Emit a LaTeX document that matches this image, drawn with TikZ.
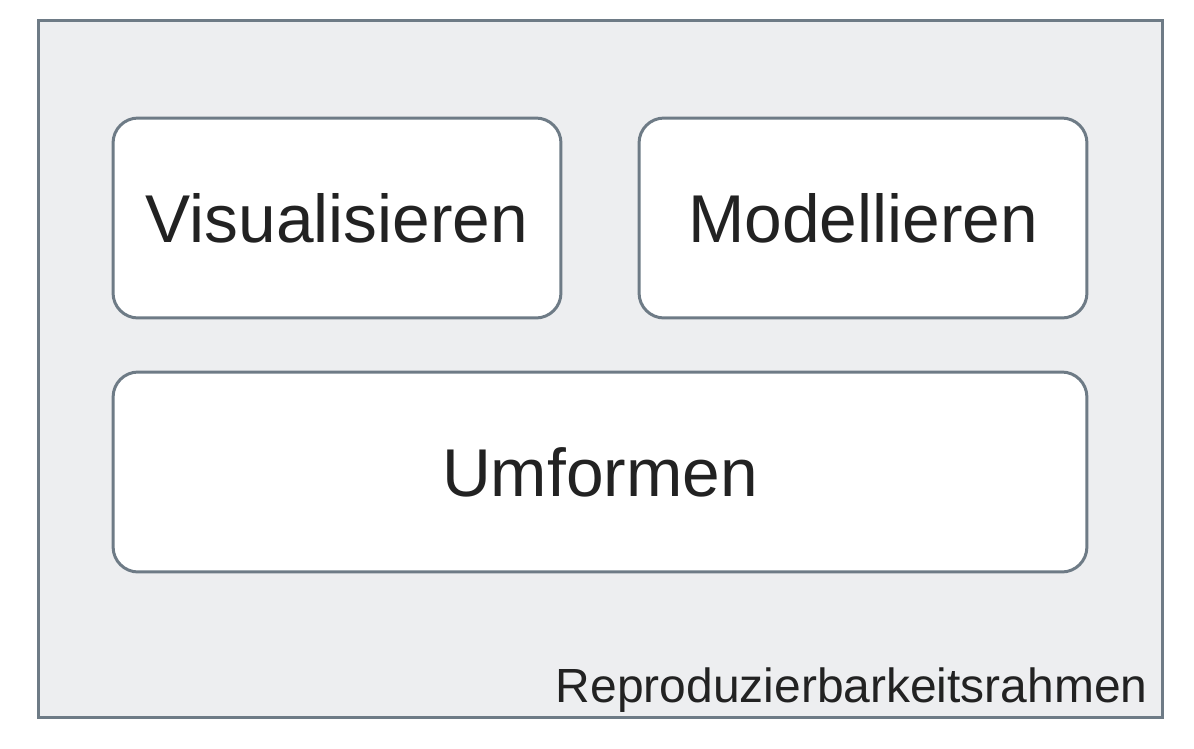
\documentclass[tikz,border=0pt]{standalone}
\usepackage{fontspec}
\setmainfont{Liberation Sans}
\usetikzlibrary{positioning}
\definecolor{rahmengrau}{HTML}{6E7B86}
\definecolor{rahmenfill}{HTML}{EDEEF0}
\definecolor{textgrau}{HTML}{222222}
\tikzset{
	schritt/.style={draw=rahmengrau, line width=1.7pt, fill=white, rounded corners=0.5cm, text=textgrau, font=\fontsize{38.5}{46}\selectfont, inner sep=0pt},
}

\begin{document}
\begin{tikzpicture}[x=0.02cm, y=-0.02cm]
			%%%%% START %%%%%
			
			\useasboundingbox (0, 0) rectangle (1194, 748);
			
			\node[draw=rahmengrau, line width=1.7pt, fill=rahmenfill, minimum width=22.48cm, minimum height=13.94cm, inner sep=0pt] (rahmen) at (600.5, 369) {};
			
			\node[schritt, minimum width=8.96cm, minimum height=4cm] (visual) at (337, 218) {Visualisieren};
			\node[schritt, minimum width=8.96cm, minimum height=4cm] (modell) at (863, 218) {Modellieren};
			\node[schritt, minimum width=19.48cm, minimum height=4cm] (umform) at (600, 472) {Umformen};
			
			\node[anchor=base east, text=textgrau, font=\fontsize{27.3}{32}\selectfont, inner sep=0pt] (rahmentext) at (1148, 702) {Reproduzierbarkeitsrahmen};
			
			%%%%% END %%%%%
\end{tikzpicture}
\end{document}
